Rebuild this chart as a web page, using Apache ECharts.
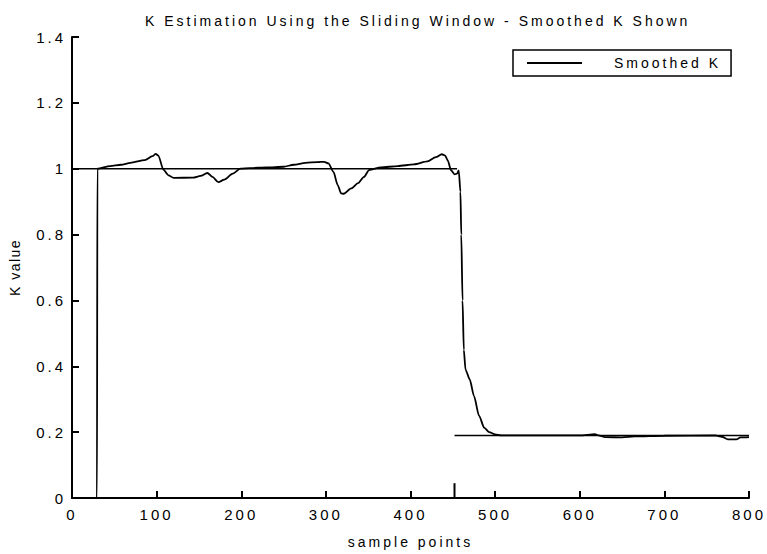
<!DOCTYPE html>
<html>
<head>
<meta charset="utf-8">
<script src="https://cdn.jsdelivr.net/npm/echarts@6/dist/echarts.min.js"></script>
<style>
html,body{margin:0;padding:0;background:#fff;}
#c{width:767px;height:554px;}
#c svg text{letter-spacing:3px;}
</style>
</head>
<body>
<div id="c"></div>
<script>
// ---- data ----
const titleText = 'K Estimation Using the Sliding Window - Smoothed K Shown';
const xAxisName = 'sample points';
const yAxisName = 'K value';
const legendName = 'Smoothed K';

const smoothX = [0, 29.5, 30, 45, 58, 69, 86, 95, 99, 102, 108, 114, 120, 143, 152, 160, 166, 173, 180, 190, 199, 210, 230, 250, 262, 276, 290, 298, 303, 309, 314, 318, 321, 330, 338, 345, 351, 365, 385, 404, 420, 430, 437, 441, 444, 448, 452, 455, 457, 459, 460, 461.5, 463, 465, 470, 475, 481, 487, 493, 500, 507, 550, 600, 618, 622, 630, 650, 665, 700, 760, 768, 775, 785, 790, 800];
const smoothY = [0, 0, 1.0, 1.008, 1.012, 1.018, 1.026, 1.038, 1.045, 1.04, 0.997, 0.98, 0.972, 0.973, 0.978, 0.987, 0.975, 0.959, 0.967, 0.985, 1.0, 1.002, 1.004, 1.006, 1.012, 1.018, 1.02, 1.021, 1.016, 0.99, 0.95, 0.925, 0.924, 0.94, 0.956, 0.975, 0.996, 1.004, 1.008, 1.013, 1.022, 1.035, 1.044, 1.04, 1.025, 0.995, 0.983, 0.985, 0.995, 0.93, 0.8, 0.6, 0.45, 0.39, 0.36, 0.31, 0.25, 0.214, 0.2, 0.193, 0.19, 0.19, 0.19, 0.194, 0.19, 0.185, 0.184, 0.187, 0.189, 0.19, 0.186, 0.178, 0.178, 0.184, 0.185];

// true K: two levels with a break between them
const trueX = [0, 455, 452, 800];
const trueY = [1, 1, 0.19, 0.19];

// small change marker at the switch point
const markX = [452, 452];
const markY = [0, 0.045];

const xTicks = {min: 0, max: 800, interval: 100};
const yTicks = {min: 0, max: 1.4, interval: 0.2};

// ---- build series data ----
const smoothData = smoothX.map((x, i) => [x, smoothY[i]]);
const trueData = [
  [trueX[0], trueY[0]], [trueX[1], trueY[1]], '-',
  [trueX[2], trueY[2]], [trueX[3], trueY[3]]
];
const markData = markX.map((x, i) => [x, markY[i]]);

const black = '#000';
const font = 'Liberation Sans, Arial, Helvetica, sans-serif';

const chart = echarts.init(document.getElementById('c'), null, {renderer: 'svg'});
chart.setOption({
  animation: false,
  backgroundColor: '#fff',
  title: {
    text: titleText,
    left: 140,
    top: 9,
    textStyle: {fontFamily: font, fontSize: 14, fontWeight: 'normal', color: black}
  },
  legend: {
    data: [legendName],
    left: 513,
    top: 50,
    orient: 'horizontal',
    backgroundColor: '#fff',
    borderColor: black,
    borderWidth: 1.5,
    borderRadius: 0,
    padding: [6, 40, 6, 14],
    itemWidth: 55,
    itemHeight: 2,
    icon: 'rect',
    selectedMode: false,
    textStyle: {fontFamily: font, fontSize: 14, color: black, padding: [0, 0, 0, 27]}
  },
  grid: {left: 71, right: 18, top: 37, bottom: 54, containLabel: false},
  xAxis: {
    type: 'value',
    min: xTicks.min, max: xTicks.max, interval: xTicks.interval,
    name: xAxisName,
    nameLocation: 'middle',
    nameGap: 37,
    nameTextStyle: {fontFamily: font, fontSize: 14, color: black},
    axisLine: {show: true, lineStyle: {color: black, width: 2}},
    axisTick: {show: true, inside: true, length: 7, lineStyle: {color: black, width: 2}},
    axisLabel: {fontFamily: font, fontSize: 15, color: black, margin: 9},
    splitLine: {show: false}
  },
  yAxis: {
    type: 'value',
    min: yTicks.min, max: yTicks.max, interval: yTicks.interval,
    name: yAxisName,
    nameLocation: 'middle',
    nameGap: 50,
    nameTextStyle: {fontFamily: font, fontSize: 14, color: black},
    axisLine: {show: true, lineStyle: {color: black, width: 2}},
    axisTick: {show: true, inside: true, length: 7, lineStyle: {color: black, width: 2}},
    axisLabel: {fontFamily: font, fontSize: 15, color: black, margin: 6},
    splitLine: {show: false}
  },
  series: [
    {
      name: legendName,
      type: 'line',
      data: smoothData,
      showSymbol: false,
      symbol: 'none',
      smooth: 0.25,
      smoothMonotone: 'x',
      lineStyle: {color: black, width: 1.8},
      itemStyle: {color: black},
      z: 3
    },
    {
      name: 'True K',
      type: 'line',
      data: trueData,
      showSymbol: false,
      symbol: 'none',
      connectNulls: false,
      lineStyle: {color: black, width: 1.4},
      itemStyle: {color: black},
      z: 2
    },
    {
      name: 'Change',
      type: 'line',
      data: markData,
      showSymbol: false,
      symbol: 'none',
      lineStyle: {color: black, width: 2},
      itemStyle: {color: black},
      z: 2
    }
  ]
});

function tweak() {
  document.querySelectorAll('#c svg text').forEach(t => {
    if (t.textContent === yAxisName) t.style.letterSpacing = '1.5px';
  });
}
tweak();
setTimeout(tweak, 30);
chart.on('finished', tweak);
</script>
</body>
</html>
